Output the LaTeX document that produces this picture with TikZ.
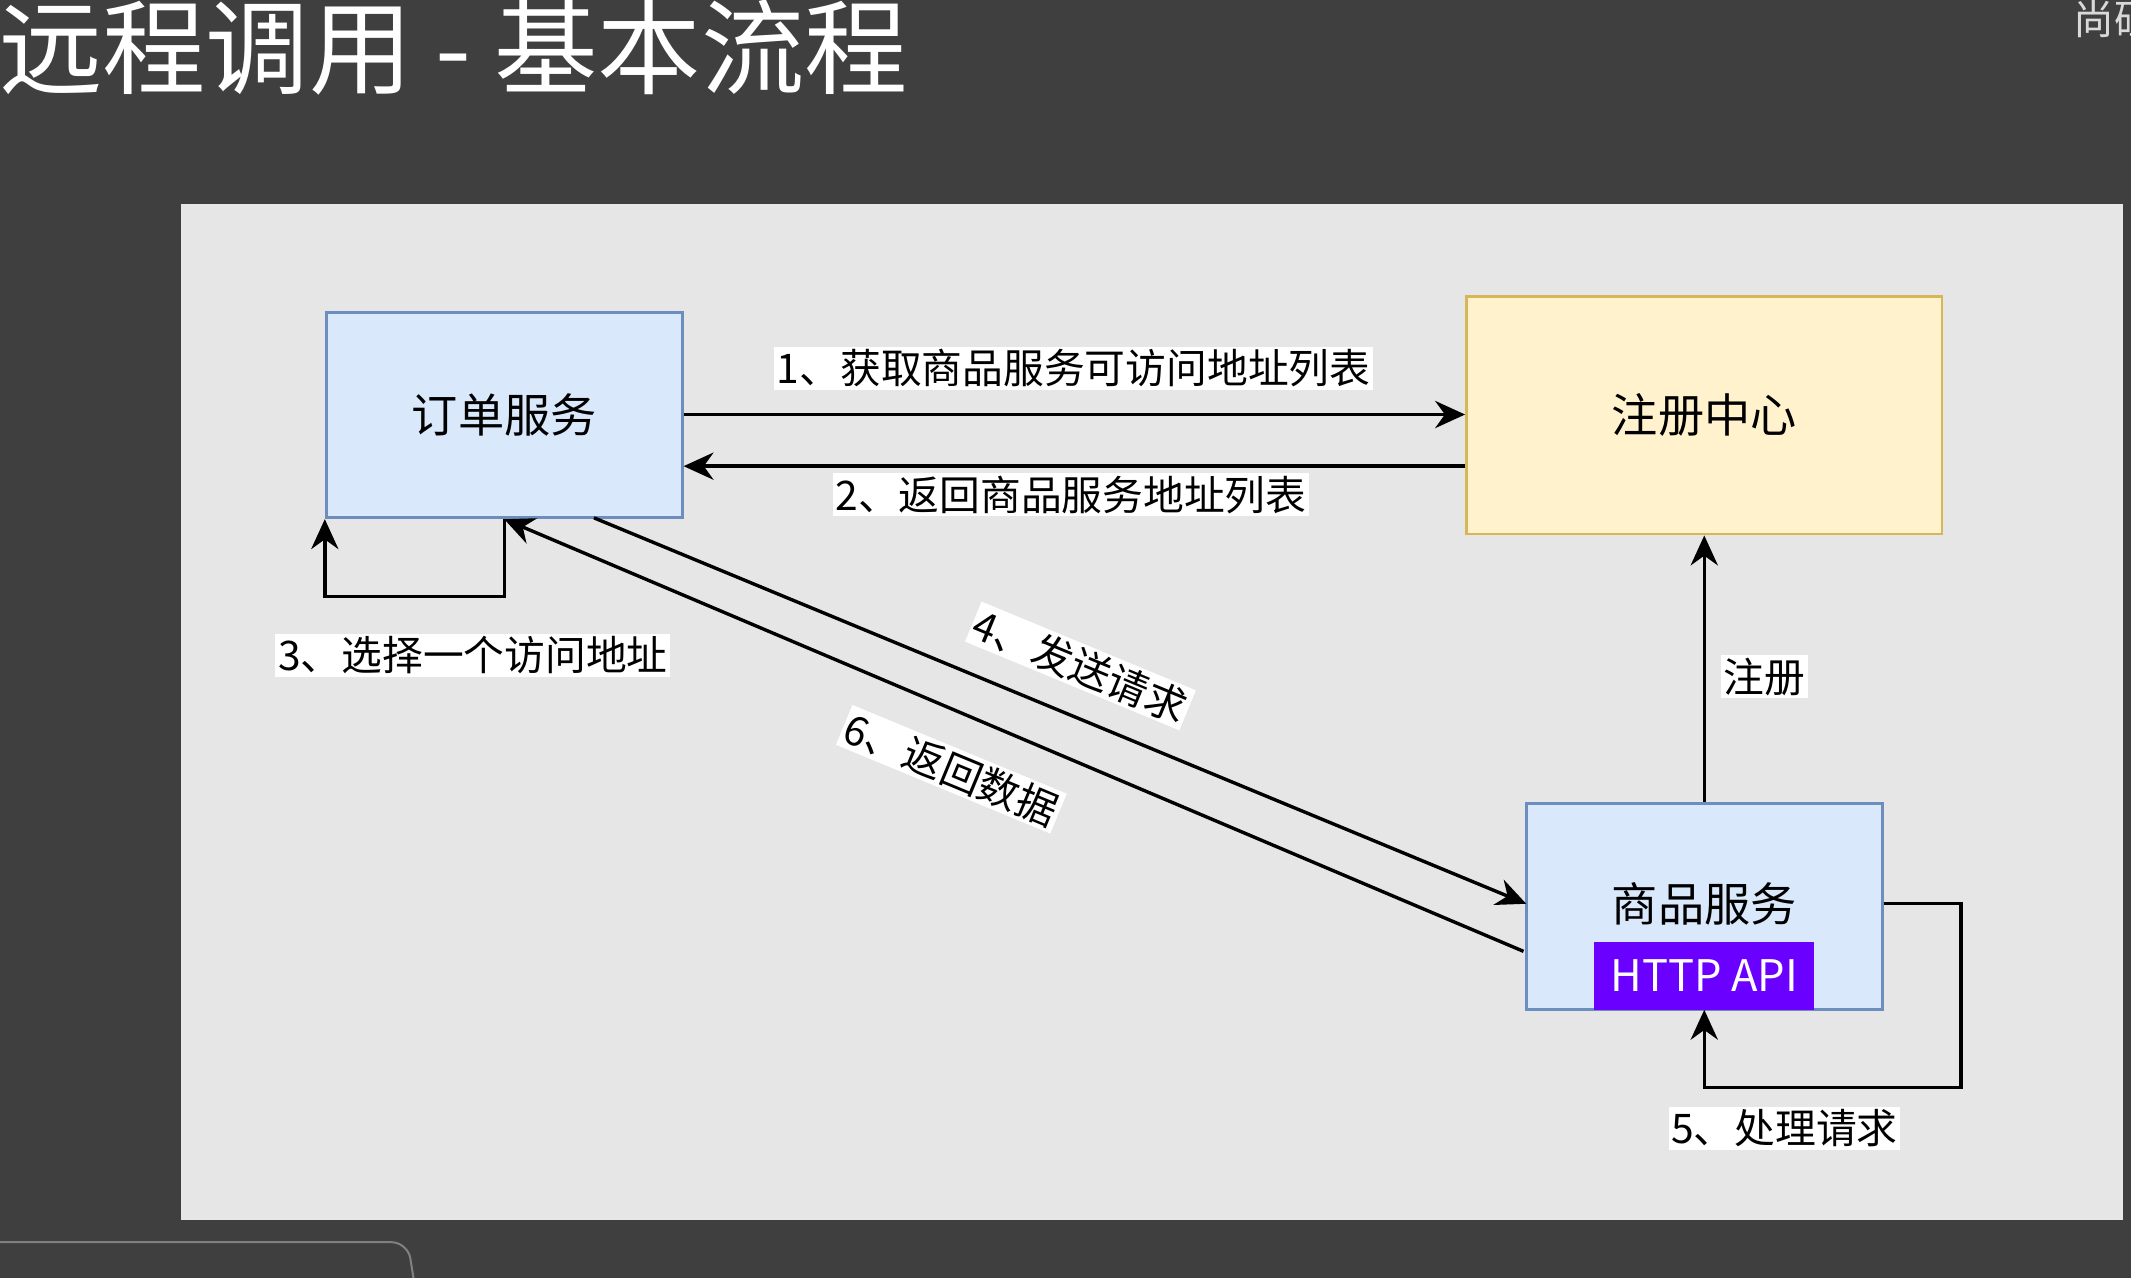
\documentclass[tikz,border=0pt]{standalone}
\usepackage{fontspec}
\setmainfont{Noto Sans CJK SC}
\usetikzlibrary{arrows.meta}
\definecolor{bgd}{HTML}{3F3F3F}
\definecolor{panel}{HTML}{E6E6E6}
\definecolor{bfill}{HTML}{DAE8FC}
\definecolor{bline}{HTML}{6C8EBF}
\definecolor{yfill}{HTML}{FFF2CC}
\definecolor{yline}{HTML}{D6B656}
\definecolor{purp}{HTML}{6A00FF}
\tikzset{
  box/.style={draw, line width=2pt, inner sep=0pt, font=\fontsize{34}{40}\selectfont},
  conn/.style={line width=2.5pt, -{Stealth[length=22pt,width=20pt]}},
  lbl/.style={fill=white, inner sep=2pt, font=\fontsize{30}{36}\selectfont}
}
\begin{document}
\begin{tikzpicture}[x=1pt,y=-1pt]
\useasboundingbox (0,0) rectangle (1568,940);
\fill[bgd] (0,0) rectangle (1568,940);
\fill[panel] (133,150) rectangle (1562,898);
\node[white, anchor=west, font=\fontsize{76}{80}\selectfont] (title) at (-4,35) {远程调用 - 基本流程};
\begin{scope}
\clip (1500,0) rectangle (1568,40);
\node[white!85!black, anchor=west, font=\fontsize{30}{34}\selectfont] (corner) at (1522,14) {尚硅};
\end{scope}
\draw[gray, line width=1.5pt, rounded corners=12pt] (-10,914) -- (300,914) -- (305,945);

\node[box, draw=bline, fill=bfill, minimum width=262pt, minimum height=151pt] (order) at (371,305.5) {订单服务};
\node[box, draw=yline, fill=yfill, minimum width=350pt, minimum height=175pt] (reg) at (1254,305.5) {注册中心};
\node[box, draw=bline, fill=bfill, minimum width=262pt, minimum height=152pt] (goods) at (1254,667) {};
\node[font=\fontsize{34}{40}\selectfont] (goodst) at (1254,665) {商品服务};
\node[fill=purp, text=white, minimum width=162pt, minimum height=50pt, inner sep=0pt, anchor=south, font=\fontsize{32}{38}\selectfont] (api) at (1254,743) {HTTP API};

\draw[conn] (order.east |- 0,305) -- (reg.west |- 0,305);
\node[lbl] (l1) at (790,271) {1、获取商品服务可访问地址列表};
\draw[conn] (reg.west |- 0,343) -- (order.east |- 0,343);
\node[lbl] (l2) at (788,364) {2、返回商品服务地址列表};

\draw[conn] (order.south) -- ++(0,57) -| (order.south west);
\node[lbl] (l3) at (348,482) {3、选择一个访问地址};

\coordinate (s4) at (437,381);
\coordinate (e4) at (1123,665);
\draw[conn] (s4) -- (e4);
\node[lbl, rotate=-22.5] (l4) at (795,490) {4、发送请求};
\coordinate (s6) at (1121,700);
\draw[conn] (s6) -- (order.south);
\node[lbl, rotate=-22.5] (l6) at (700,566) {6、返回数据};

\draw[conn] (goods.north) -- (reg.south);
\node[lbl] (lr) at (1298,498) {注册};

\draw[conn] (goods.east |- 0,665) -- (1443,665) -- (1443,800) -- (1254,800) -- (api.south);
\node[lbl] (l5) at (1313,830) {5、处理请求};
\end{tikzpicture}
\end{document}
